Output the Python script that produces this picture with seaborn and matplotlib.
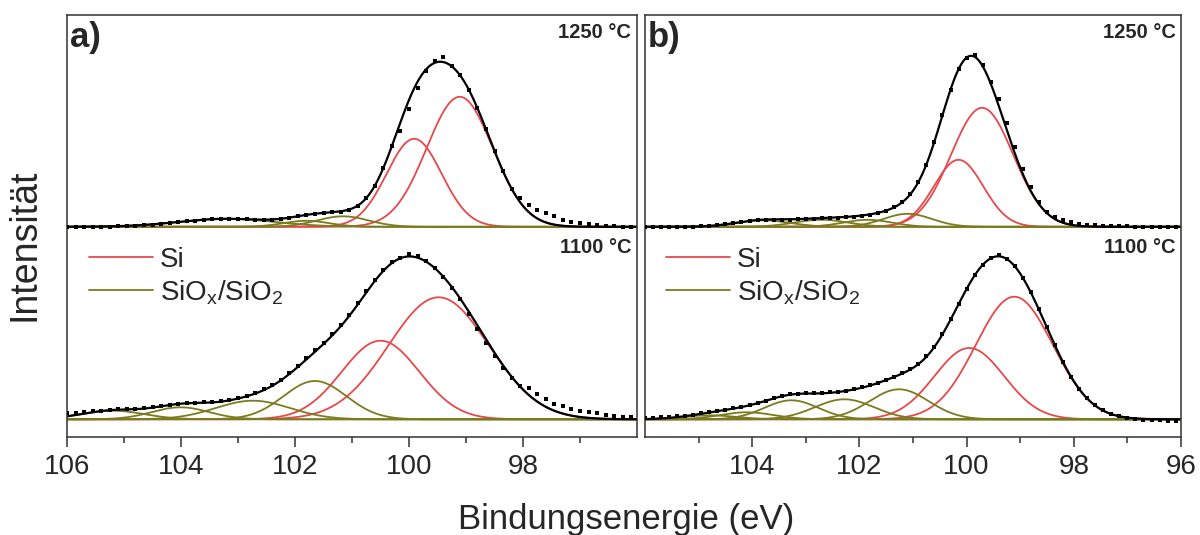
import numpy as np
import pandas as pd
import matplotlib
matplotlib.use("Agg")
import matplotlib.pyplot as plt
from matplotlib.lines import Line2D
import seaborn as sns

# ── Peak fit components ───────────────────────────────────────
# position (eV), height (a.u.), gaussian sigma (eV)
a1250_si_pos = [99.11, 99.91]
a1250_si_amp = [130.0, 88.0]
a1250_si_sig = [0.58, 0.48]
a1250_ox_pos = [103.2, 101.8, 101.16]
a1250_ox_amp = [8.0, 6.0, 10.5]
a1250_ox_sig = [0.85, 0.40, 0.45]

a1100_si_pos = [99.48, 100.5]
a1100_si_amp = [122.0, 78.6]
a1100_si_sig = [0.88, 0.68]
a1100_ox_pos = [101.65, 102.74, 104.01, 105.2]
a1100_ox_amp = [38.3, 18.6, 12.0, 8.6]
a1100_ox_sig = [0.55, 0.65, 0.5, 0.55]

b1250_si_pos = [99.71, 100.15]
b1250_si_amp = [119.0, 67.0]
b1250_si_sig = [0.58, 0.46]
b1250_ox_pos = [101.1, 101.85, 102.71, 103.8]
b1250_ox_amp = [13.0, 7.0, 7.0, 6.5]
b1250_ox_sig = [0.45, 0.45, 0.5, 0.5]

b1100_si_pos = [99.11, 99.95]
b1100_si_amp = [122.6, 71.3]
b1100_si_sig = [0.72, 0.65]
b1100_ox_pos = [101.26, 102.28, 103.27, 104.1, 104.8]
b1100_ox_amp = [30.0, 20.0, 19.0, 7.0, 4.0]
b1100_ox_sig = [0.55, 0.55, 0.5, 0.5, 0.5]

a1250_meas = [0, 0, 0, 0, 0, 0, 1, 1, 1, 2,
              2, 3, 4, 5, 6, 6, 7, 8, 8, 8,
              8, 8, 7, 7, 7, 8, 9, 11, 12, 13,
              14, 15, 15, 17, 21, 29, 41, 59, 81, 96,
              118, 139, 156, 166, 170, 161, 152, 137, 119, 98,
              76, 56, 38, 29, 22, 17, 14, 11, 7, 5,
              4, 3, 2, 1, 1, 0, 0]
a1100_meas = [6, 6, 7, 8, 8, 9, 10, 10, 10, 11,
              12, 13, 14, 15, 16, 16, 17, 17, 18, 19,
              21, 23, 26, 30, 34, 39, 46, 53, 61, 69,
              76, 85, 94, 104, 116, 128, 139, 149, 157, 161,
              165, 163, 158, 151, 142, 131, 120, 105, 90, 76,
              63, 51, 41, 33, 31, 25, 20, 15.5, 13, 10.5,
              8.5, 7, 6, 4.5, 3.5, 2.5, 2]
b1250_meas = [0, 0, 0, 0, 0, 0, 0, 1, 1, 2,
              3, 4, 5, 6, 7, 7, 7, 7, 7, 8,
              8, 8, 9, 9, 9, 10, 10, 11, 12, 14,
              16, 20, 25, 33, 45, 62, 85, 112, 137, 158,
              169, 172, 162, 145, 128, 104, 80, 58, 40, 25,
              15, 10, 6.5, 4.5, 3, 2, 1.5, 1, 1, 0.5,
              0.5, 0, 0, 0, 0, 0, 0]
b1100_meas = [1, 1, 2, 2, 3, 3, 4, 6, 7, 8,
              9, 11, 12, 14, 16, 18, 21, 23, 25, 25,
              26, 26, 26, 27, 27, 28, 30, 32, 34, 36,
              39, 42, 46, 50, 55, 63, 72, 85, 100, 115,
              130, 144, 154, 161, 164, 160, 153, 141, 127, 110,
              92, 74, 57, 42, 30, 21, 14, 9, 5, 3,
              1, 0.5, -0.5, -1, -1, -1.5, -1.5]

TOP_OFFSET = 192.5
RED = "#E8484A"
OLIVE = "#7B7B1E"

sns.set_theme(style="ticks")
plt.rcParams["font.family"] = ["Liberation Sans", "DejaVu Sans"]

E = np.linspace(106, 96, 1001)
E_meas = np.round(106 - 0.15 * np.arange(len(a1250_meas)), 2)

def gauss(x, p, a, s):
    return a * np.exp(-(x - p) ** 2 / (2 * s ** 2))

def draw_spectrum(ax, si, ox, meas, offset):
    total = np.zeros_like(E)
    for (pos, amp, sig), color in [(si, RED), (ox, OLIVE)]:
        for p, a, s in zip(pos, amp, sig):
            y = gauss(E, p, a, s)
            total += y
            sns.lineplot(x=E, y=y + offset, color=color, lw=1.3, ax=ax, sort=False)
    sns.lineplot(x=E, y=total + offset, color="black", lw=1.6, ax=ax, sort=False)
    pts = pd.DataFrame({"E": E_meas, "I": np.array(meas) + offset})
    sns.scatterplot(data=pts, x="E", y="I", color="black", s=7, marker="s",
                    linewidth=0, ax=ax, zorder=5)

fig = plt.figure(figsize=(12, 5.35), dpi=100)
ax_a = fig.add_axes([67/1200, 98/535, 570/1200, 422/535])
ax_b = fig.add_axes([645/1200, 98/535, 536/1200, 422/535])

draw_spectrum(ax_a, (a1250_si_pos, a1250_si_amp, a1250_si_sig),
              (a1250_ox_pos, a1250_ox_amp, a1250_ox_sig), a1250_meas, TOP_OFFSET)
draw_spectrum(ax_a, (a1100_si_pos, a1100_si_amp, a1100_si_sig),
              (a1100_ox_pos, a1100_ox_amp, a1100_ox_sig), a1100_meas, 0)
draw_spectrum(ax_b, (b1250_si_pos, b1250_si_amp, b1250_si_sig),
              (b1250_ox_pos, b1250_ox_amp, b1250_ox_sig), b1250_meas, TOP_OFFSET)
draw_spectrum(ax_b, (b1100_si_pos, b1100_si_amp, b1100_si_sig),
              (b1100_ox_pos, b1100_ox_amp, b1100_ox_sig), b1100_meas, 0)

for ax, lab, ticks in [(ax_a, "a)", [106, 104, 102, 100, 98]),
                       (ax_b, "b)", [104, 102, 100, 98, 96])]:
    ax.set_xlim(106, 96)
    ax.set_ylim(-17.7, 404.3)
    ax.set_xticks(ticks)
    ax.set_xticks([105, 103, 101, 99, 97], minor=True)
    ax.set_yticks([])
    ax.set_xlabel("")
    ax.set_ylabel("")
    ax.tick_params(axis="x", which="major", length=7, width=1.1, labelsize=20,
                   pad=5, color="#333333")
    ax.tick_params(axis="x", which="minor", length=4, width=1.1, color="#333333")
    for sp in ax.spines.values():
        sp.set_visible(True)
        sp.set_linewidth(1.1)
        sp.set_color("#333333")
    ax.text(0.006, 0.985, lab, transform=ax.transAxes, ha="left", va="top",
            fontsize=25, fontweight="bold")
    ax.text(0.99, 0.982, "1250 °C", transform=ax.transAxes, ha="right", va="top",
            fontsize=14.5, fontweight="bold")
    ax.text(0.99, 0.472, "1100 °C", transform=ax.transAxes, ha="right", va="top",
            fontsize=14.5, fontweight="bold")
    handles = [Line2D([], [], color=RED, lw=1.3), Line2D([], [], color=OLIVE, lw=1.3)]
    ax.legend(handles, ["Si", r"SiO$_\mathregular{x}$/SiO$_\mathregular{2}$"],
              loc="upper left", bbox_to_anchor=(0.014, 0.484), frameon=False,
              fontsize=20, handlelength=2.3, handletextpad=0.25, borderpad=0,
              labelspacing=0.2)

fig.text(25/1200, 0.542, "Intensität", rotation=90, ha="center", va="center", fontsize=27)
fig.text(0.522, 0.012, "Bindungsenergie (eV)", ha="center", va="baseline", fontsize=25)

fig.savefig("out.png", dpi=100)
